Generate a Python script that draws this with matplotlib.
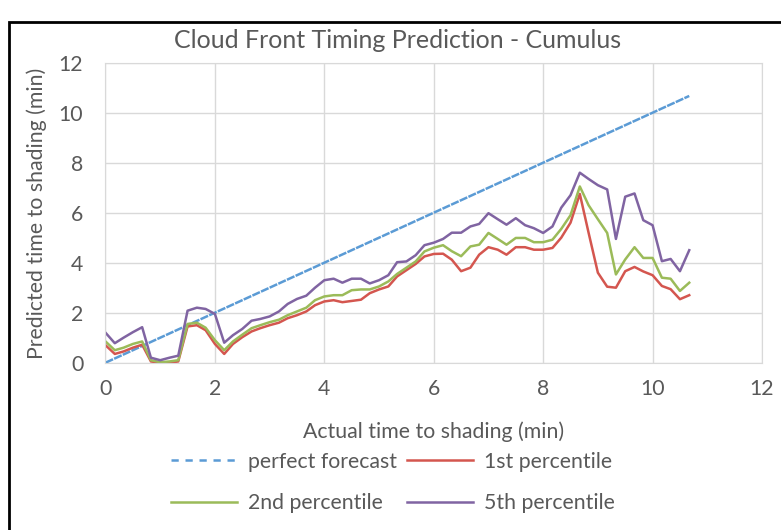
import matplotlib
matplotlib.use("Agg")
import matplotlib.pyplot as plt
from matplotlib.lines import Line2D
from matplotlib.patches import Rectangle

# Tempo real até o sombreamento (min), amostras a cada 10 s
actual_time = [0, 0.17, 0.33, 0.5, 0.67, 0.83,
               1.0, 1.17, 1.33, 1.5, 1.67, 1.83,
               2.0, 2.17, 2.33, 2.5, 2.67, 2.83,
               3.0, 3.17, 3.33, 3.5, 3.67, 3.83,
               4.0, 4.17, 4.33, 4.5, 4.67, 4.83,
               5.0, 5.17, 5.33, 5.5, 5.67, 5.83,
               6.0, 6.17, 6.33, 6.5, 6.67, 6.83,
               7.0, 7.17, 7.33, 7.5, 7.67, 7.83,
               8.0, 8.17, 8.33, 8.5, 8.67, 8.83,
               9.0, 9.17, 9.33, 9.5, 9.67, 9.83,
               10.0, 10.17, 10.33, 10.5, 10.67]

perfect_forecast = [0, 0.17, 0.33, 0.5, 0.67, 0.83,
                    1.0, 1.17, 1.33, 1.5, 1.67, 1.83,
                    2.0, 2.17, 2.33, 2.5, 2.67, 2.83,
                    3.0, 3.17, 3.33, 3.5, 3.67, 3.83,
                    4.0, 4.17, 4.33, 4.5, 4.67, 4.83,
                    5.0, 5.17, 5.33, 5.5, 5.67, 5.83,
                    6.0, 6.17, 6.33, 6.5, 6.67, 6.83,
                    7.0, 7.17, 7.33, 7.5, 7.67, 7.83,
                    8.0, 8.17, 8.33, 8.5, 8.67, 8.83,
                    9.0, 9.17, 9.33, 9.5, 9.67, 9.83,
                    10.0, 10.17, 10.33, 10.5, 10.67]

pct_1st = [0.7, 0.35, 0.45, 0.6, 0.72, 0.05,
           0.0, 0.0, 0.05, 1.45, 1.5, 1.3,
           0.75, 0.35, 0.75, 1.02, 1.25, 1.38,
           1.5, 1.6, 1.78, 1.9, 2.05, 2.3,
           2.45, 2.5, 2.42, 2.47, 2.52, 2.78,
           2.93, 3.05, 3.45, 3.7, 3.95, 4.25,
           4.35, 4.36, 4.12, 3.66, 3.8, 4.32,
           4.62, 4.52, 4.32, 4.62, 4.62, 4.52,
           4.52, 4.59, 5.0, 5.6, 6.75, 5.2,
           3.6, 3.04, 3.0, 3.66, 3.83, 3.65,
           3.5, 3.07, 2.94, 2.54, 2.7]

pct_2nd = [0.85, 0.5, 0.6, 0.75, 0.85, 0.1,
           0.02, 0.05, 0.1, 1.55, 1.6, 1.4,
           0.9, 0.5, 0.85, 1.12, 1.38, 1.5,
           1.62, 1.72, 1.9, 2.05, 2.2, 2.5,
           2.65, 2.7, 2.7, 2.9, 2.93, 2.93,
           3.05, 3.25, 3.55, 3.8, 4.05, 4.45,
           4.6, 4.7, 4.46, 4.26, 4.65, 4.72,
           5.19, 4.95, 4.72, 4.99, 4.99, 4.82,
           4.82, 4.92, 5.35, 5.9, 7.05, 6.3,
           5.74, 5.19, 3.53, 4.13, 4.62, 4.19,
           4.19, 3.4, 3.36, 2.87, 3.2]

pct_5th = [1.2, 0.78, 1.0, 1.22, 1.42, 0.2,
           0.1, 0.2, 0.28, 2.08, 2.2, 2.15,
           1.95, 0.8, 1.1, 1.35, 1.68, 1.75,
           1.85, 2.05, 2.35, 2.55, 2.68, 3.0,
           3.3, 3.36, 3.2, 3.36, 3.36, 3.17,
           3.3, 3.5, 4.02, 4.05, 4.3, 4.7,
           4.8, 4.95, 5.2, 5.2, 5.45, 5.55,
           5.98, 5.74, 5.52, 5.78, 5.5, 5.38,
           5.19, 5.45, 6.2, 6.7, 7.6, 7.35,
           7.1, 6.93, 4.95, 6.64, 6.77, 5.7,
           5.5, 4.06, 4.15, 3.66, 4.5]

x_ticks = [0, 2, 4, 6, 8, 10, 12]
y_ticks = [0, 2, 4, 6, 8, 10, 12]

# Cores no estilo Excel
c_blue = "#5B9BD5"
c_red = "#D4564F"
c_green = "#9BBB59"
c_purple = "#8064A2"
c_text = "#595959"
c_grid = "#D9D9D9"

fs = 15.3

plt.rcParams["font.family"] = ["Lato", "DejaVu Sans"]

fig = plt.figure(figsize=(7.81, 5.30), dpi=100)
ax = fig.add_axes([105.5 / 781, 1 - 362.7 / 530, (762 - 105.5) / 781, 300 / 530])

lw = 1.8
ax.plot(actual_time, perfect_forecast, color=c_blue, lw=lw, dashes=(3.3, 0.5))
ax.plot(actual_time, pct_1st, color=c_red, lw=lw)
ax.plot(actual_time, pct_2nd, color=c_green, lw=lw)
ax.plot(actual_time, pct_5th, color=c_purple, lw=lw)

ax.set_xlim(0, 12)
ax.set_ylim(0, 12)
ax.set_xticks(x_ticks)
ax.set_yticks(y_ticks)
ax.grid(True, color=c_grid, lw=1)
ax.set_axisbelow(True)
ax.tick_params(length=0, labelsize=fs, labelcolor=c_text)
ax.tick_params(axis="x", pad=12)
ax.tick_params(axis="y", pad=16)
for s in ax.spines.values():
    s.set_color(c_grid)

fig.text(398 / 781, 1 - 40 / 530, "Cloud Front Timing Prediction - Cumulus",
         ha="center", va="center", fontsize=18, color=c_text)
fig.text(434 / 781, 1 - 432 / 530, "Actual time to shading (min)",
         ha="center", va="center", fontsize=fs, color=c_text)
fig.text(37 / 781, 1 - 213 / 530, "Predicted time to shading (min)",
         ha="center", va="center", rotation=90, fontsize=fs, color=c_text)

# Legenda: 2 colunas, preenchida por coluna
handles = [
    Line2D([], [], color=c_blue, lw=lw, dashes=(2.9, 2.7)),
    Line2D([], [], color=c_green, lw=lw),
    Line2D([], [], color=c_red, lw=lw),
    Line2D([], [], color=c_purple, lw=lw),
]
labels = ["perfect forecast", "2nd percentile", "1st percentile", "5th percentile"]
fig.legend(handles, labels, ncol=2, loc="center",
           bbox_to_anchor=(393 / 781, 1 - 482.5 / 530),
           frameon=False, fontsize=fs, labelcolor=c_text,
           handlelength=3.1, handletextpad=0.5, columnspacing=0.5,
           labelspacing=1.03, borderpad=0, borderaxespad=0)

# Moldura preta da captura
fig.patches.append(Rectangle((9 / 781, -0.1), 1.2, 1 - 22 / 530 + 0.1,
                             transform=fig.transFigure, fill=False,
                             edgecolor="black", lw=2))

fig.savefig("out.png", dpi=100)
